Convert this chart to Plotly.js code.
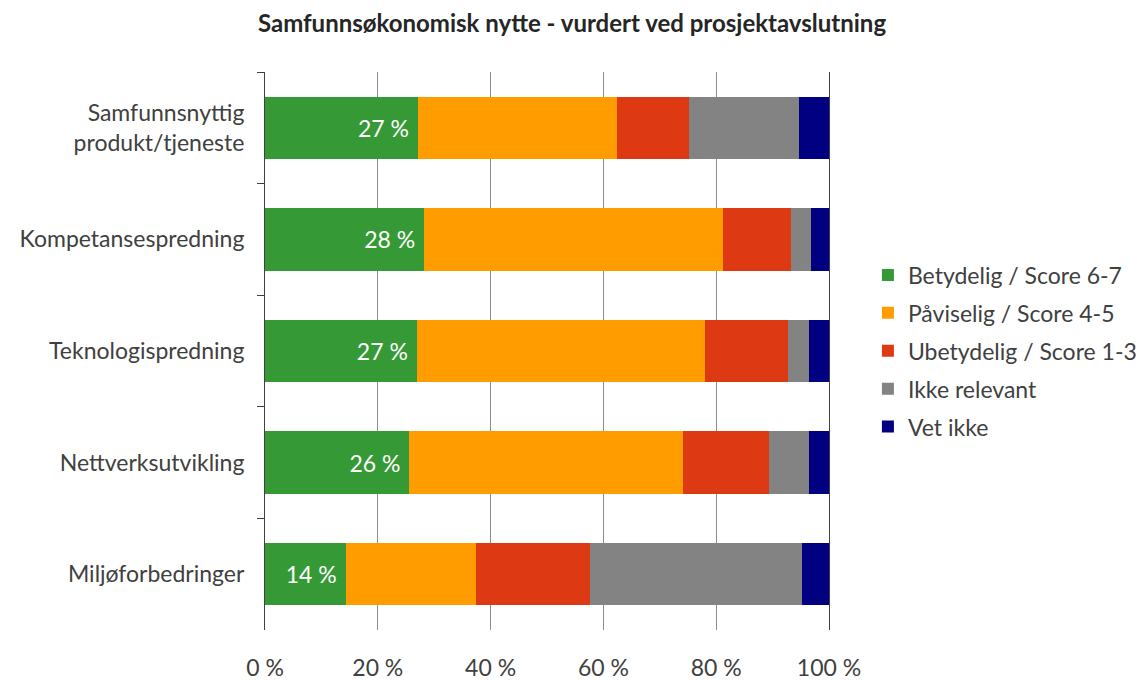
<!DOCTYPE html>
<html>
<head>
<meta charset="utf-8">
<script src="https://cdn.plot.ly/plotly-3.0.1.min.js"></script>
<style>html,body{margin:0;padding:0;background:#fff;}#chart{width:1144px;height:680px;}</style>
</head>
<body>
<div id="chart"></div>
<script>
var categories = ["Samfunnsnyttig<br>produkt/tjeneste", "Kompetansespredning", "Teknologispredning", "Nettverksutvikling", "Miljøforbedringer"];
var seriesNames = ["Betydelig / Score 6-7", "Påviselig / Score 4-5", "Ubetydelig / Score 1-3", "Ikke relevant", "Vet ikke"];
var betydelig = [27.1, 28.2, 26.9, 25.6, 14.3];
var paviselig = [35.3, 53.0, 51.1, 48.5, 23.1];
var ubetydelig = [12.8, 12.0, 14.7, 15.2, 20.2];
var ikkeRelevant = [19.5, 3.6, 3.7, 7.1, 37.6];
var vetIkke = [5.3, 3.2, 3.6, 3.6, 4.8];
var xTickVals = [0, 20, 40, 60, 80, 100];
var xTickText = ["0 %", "20 %", "40 %", "60 %", "80 %", "100 %"];
var colors = ["#359a35", "#ff9c00", "#dd3a14", "#838383", "#000080"];

var values = [betydelig, paviselig, ubetydelig, ikkeRelevant, vetIkke];
var font = "Lato, 'Open Sans', sans-serif";
var traces = values.map(function (v, i) {
  var t = {
    type: "bar",
    orientation: "h",
    name: seriesNames[i],
    y: categories,
    x: v,
    legendgroup: "g" + i,
    marker: { color: colors[i], line: { width: 0 } },
    hoverinfo: "x+name"
  };
  if (i === 0) {
    t.text = v.map(function (d) { return Math.round(d) + " %\u00a0"; });
    t.textposition = "inside";
    t.insidetextanchor = "end";
    t.textfont = { color: "#ffffff", size: 23, family: font };
    t.texttemplate = "%{text}";
  } else {
    t.textposition = "none";
  }
  return t;
});

var layout = {
  width: 1144,
  height: 680,
  barmode: "stack",
  bargap: 0.44,
  paper_bgcolor: "#ffffff",
  plot_bgcolor: "#ffffff",
  font: { family: font, color: "#404040", size: 23 },
  title: {
    text: "<b>Samfunnsøkonomisk nytte - vurdert ved prosjektavslutning</b>",
    font: { family: font, size: 24, color: "#262626" },
    x: 0.5, xanchor: "center", y: 0.965, yanchor: "middle"
  },
  margin: { l: 265, r: 315, t: 72, b: 50, autoexpand: false },
  xaxis: {
    range: [0, 100],
    tickvals: xTickVals,
    ticktext: xTickText,
    showgrid: true,
    gridcolor: "#8c8c8c",
    gridwidth: 1,
    zeroline: false,
    showline: false,
    ticks: "",
    ticklabelstandoff: 22,
    tickfont: { size: 23, color: "#404040", family: font },
    fixedrange: true
  },
  yaxis: {
    categoryorder: "array",
    categoryarray: categories,
    autorange: "reversed",
    showline: true,
    mirror: true,
    linecolor: "#404040",
    linewidth: 1,
    ticks: "outside",
    tickson: "boundaries",
    ticklen: 7,
    tickcolor: "#404040",
    showgrid: false,
    ticklabelstandoff: 15,
    tickfont: { size: 23, color: "#404040", family: font },
    fixedrange: true
  },
  legend: {
    x: 1.069, xanchor: "left",
    y: 0.5, yanchor: "middle",
    traceorder: "grouped",
    tracegroupgap: 5,
    font: { size: 23, color: "#404040", family: font },
    bgcolor: "rgba(0,0,0,0)"
  },
  showlegend: true
};

Plotly.newPlot("chart", traces, layout, { displayModeBar: false, staticPlot: true });
</script>
</body>
</html>
